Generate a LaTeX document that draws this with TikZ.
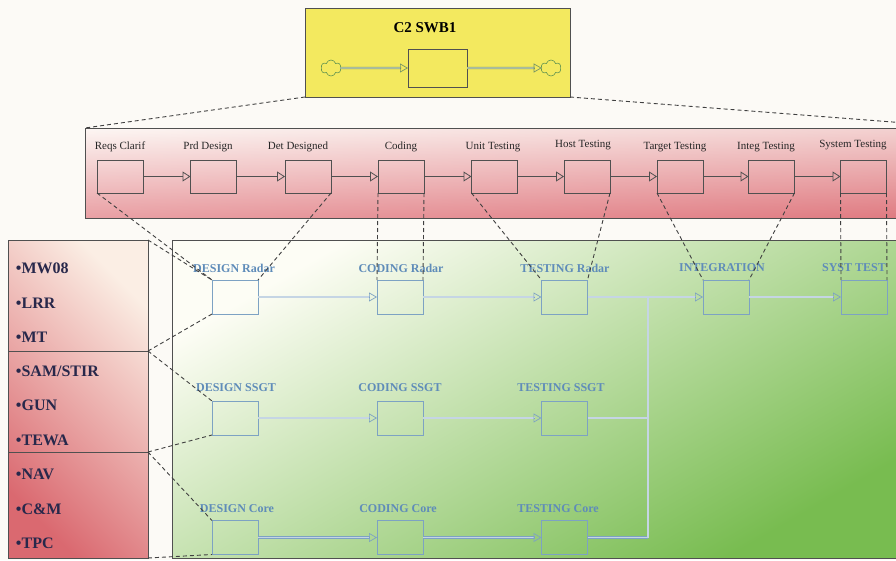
\documentclass[tikz,border=0pt]{standalone}
\usepackage{fontspec}
\setmainfont{Liberation Serif}
\usetikzlibrary{arrows.meta,shapes.symbols,calc}
\definecolor{bgc}{RGB}{252,250,246}
\definecolor{boxgray}{RGB}{80,80,80}
\definecolor{bluetxt}{RGB}{95,140,185}
\definecolor{blueln}{RGB}{125,162,195}
\definecolor{navy}{RGB}{40,40,75}
\definecolor{ylw}{RGB}{243,233,95}
\definecolor{yarrow}{RGB}{120,150,100}
\definecolor{cloudc}{RGB}{100,150,80}
\definecolor{pinktop}{RGB}{252,244,240}
\definecolor{pinkbot}{RGB}{226,128,134}
\definecolor{pinkred}{RGB}{215,95,105}
\definecolor{lbtop}{RGB}{251,238,228}
\definecolor{lbbot}{RGB}{218,105,112}
\definecolor{gtop}{RGB}{253,253,245}
\definecolor{gmid}{RGB}{215,237,190}
\definecolor{gbot}{RGB}{120,188,80}
\newcommand\dblarr[3]{%
  \draw[dblline=#1, shorten >=7pt] (#2) -- (#3);
  \draw[dbltip=#1] ($(#3)+(-8,0)$) -- (#3);}
\begin{document}
\begin{tikzpicture}[x=1pt,y=-1pt,
  every node/.style={inner sep=0pt, outer sep=0pt},
  pbox/.style={draw=boxgray, line width=0.8pt, minimum width=46pt, minimum height=33pt},
  lbox/.style={draw=blueln, line width=0.8pt, minimum width=46pt, minimum height=34pt},
  ptxt/.style={font=\fontsize{11}{11}\selectfont, text=black!85},
  ltxt/.style={font=\bfseries\fontsize{12}{12}\selectfont, text=bluetxt},
  itxt/.style={font=\bfseries\fontsize{16}{16}\selectfont, text=navy, anchor=west},
  parrow/.style={draw=boxgray, line width=0.8pt, -{Triangle[open,length=8pt,width=10pt,line width=0.8pt]}},
  dsh/.style={draw=black!75, line width=0.9pt, dash pattern=on 4pt off 3pt},
  dblline/.style={draw=#1, double=#1!45!white, double distance=1.2pt, line width=0.6pt},
  dbltip/.style={draw=#1, line width=0.7pt, -{Triangle[open,length=8pt,width=9pt]}},
]
\useasboundingbox[fill=bgc] (0,0) rectangle (896,560);

% ---------- top yellow box ----------
\node[draw=boxgray, line width=0.9pt, fill=ylw, minimum width=265pt, minimum height=89pt] (swb) at (437.5,52.5) {};
\node[font=\bfseries\fontsize{15}{15}\selectfont] (title) at (425,28) {C2 SWB1};
\node[draw=boxgray, line width=0.8pt, minimum width=59pt, minimum height=38pt] (core) at (437.5,68) {};
\node[cloud, cloud puffs=6, draw=cloudc, line width=0.6pt, minimum width=20pt, minimum height=16pt] (cl1) at (331,68) {};
\node[cloud, cloud puffs=6, draw=cloudc, line width=0.6pt, minimum width=20pt, minimum height=16pt] (cl2) at (551,68) {};
\dblarr{yarrow}{cl1.east}{core.west}
\dblarr{yarrow}{core.east}{cl2.west}

% ---------- middle process box ----------
\node[minimum width=885pt, minimum height=90pt, top color=pinktop, bottom color=pinkbot] (mid) at (527.5,173) {};
\shade[left color=white, right color=pinkred, opacity=0.25] (mid.north west) rectangle (mid.south east);
\draw[boxgray, line width=0.9pt] (mid.north west) rectangle (mid.south east);

\draw[dsh] (swb.south west) -- (mid.north west);
\draw[dsh] (swb.south east) -- (mid.north east);

\node[pbox] (p1) at (120,176.5) {};
\node[pbox] (p2) at (213.5,176.5) {};
\node[pbox] (p3) at (308,176.5) {};
\node[pbox] (p4) at (401,176.5) {};
\node[pbox] (p5) at (494.5,176.5) {};
\node[pbox] (p6) at (587,176.5) {};
\node[pbox] (p7) at (680,176.5) {};
\node[pbox] (p8) at (771.5,176.5) {};
\node[pbox] (p9) at (863.5,176.5) {};

\node[ptxt] (t1) at (120,147) {Reqs Clarif};
\node[ptxt] (t2) at (208,147) {Prd Design};
\node[ptxt] (t3) at (298,147) {Det Designed};
\node[ptxt] (t4) at (401,147) {Coding};
\node[ptxt] (t5) at (493,147) {Unit Testing};
\node[ptxt] (t6) at (583,145) {Host Testing};
\node[ptxt] (t7) at (675,147) {Target Testing};
\node[ptxt] (t8) at (766,147) {Integ Testing};
\node[ptxt] (t9) at (853,145) {System Testing};

\foreach \a/\b in {p1/p2,p2/p3,p3/p4,p4/p5,p5/p6,p6/p7,p7/p8,p8/p9}
  \draw[parrow] (\a.east) -- (\b.west);

% ---------- left list box ----------
\node[minimum width=140pt, minimum height=318pt, top color=lbtop, bottom color=lbbot, shading angle=315] (lb) at (78,399) {};
\draw[boxgray, line width=0.9pt] (lb.north west) rectangle (lb.south east);
\coordinate (d1) at (148,351);
\coordinate (d2) at (148,452);
\draw[boxgray, line width=0.9pt] (lb.west |- d1) -- (d1);
\draw[boxgray, line width=0.9pt] (lb.west |- d2) -- (d2);
\node[itxt] (i1) at (16,268) {•MW08};
\node[itxt] (i2) at (16,303) {•LRR};
\node[itxt] (i3) at (16,337) {•MT};
\node[itxt] (i4) at (16,371) {•SAM/STIR};
\node[itxt] (i5) at (16,405) {•GUN};
\node[itxt] (i6) at (16,440) {•TEWA};
\node[itxt] (i7) at (16,474) {•NAV};
\node[itxt] (i8) at (16,509) {•C\&M};
\node[itxt] (i9) at (16,543) {•TPC};

% ---------- lower detail box ----------
\node[minimum width=728pt, minimum height=318pt, top color=gtop, middle color=gmid, bottom color=gbot, shading angle=30] (lo) at (536,399) {};
\draw[boxgray, line width=0.9pt] (lo.north west) rectangle (lo.south east);

\node[lbox] (dr) at (235,297) {};
\node[lbox] (cr) at (400,297) {};
\node[lbox] (tr) at (564.5,297) {};
\node[lbox] (ig) at (726,297) {};
\node[lbox] (st) at (864,297) {};
\node[lbox] (ds) at (235,418) {};
\node[lbox] (cs) at (400,418) {};
\node[lbox] (ts) at (564.5,418) {};
\node[lbox] (dc) at (235,537.5) {};
\node[lbox] (cc) at (400,537.5) {};
\node[lbox] (tc) at (564.5,537.5) {};

\node[ltxt] (l1) at (234,268) {DESIGN Radar};
\node[ltxt] (l2) at (401,268) {CODING Radar};
\node[ltxt] (l3) at (565,268) {TESTING Radar};
\node[ltxt] (l4) at (722,268) {INTEGRATION};
\node[ltxt] (l5) at (854,268) {SYST TEST};
\node[ltxt] (l6) at (236,388) {DESIGN SSGT};
\node[ltxt] (l7) at (400,388) {CODING SSGT};
\node[ltxt] (l8) at (561,388) {TESTING SSGT};
\node[ltxt] (l9) at (237,509) {DESIGN Core};
\node[ltxt] (l10) at (398,509) {CODING Core};
\node[ltxt] (l11) at (558,509) {TESTING Core};

\coordinate (bus1) at (648,297);
\coordinate (bus2) at (648,418);
\coordinate (bus3) at (648,537.5);

\dblarr{blueln}{dr.east}{cr.west}
\dblarr{blueln}{cr.east}{tr.west}
\dblarr{blueln}{tr.east}{ig.west}
\dblarr{blueln}{ig.east}{st.west}
\dblarr{blueln}{ds.east}{cs.west}
\dblarr{blueln}{cs.east}{ts.west}
\dblarr{blueln}{dc.east}{cc.west}
\dblarr{blueln}{cc.east}{tc.west}
\draw[dblline=blueln] (ts.east) -- (bus2);
\draw[dblline=blueln] (tc.east) -- (bus3);
\draw[dblline=blueln] (bus1) -- (bus3);

% ---------- dashed zoom lines ----------
\draw[dsh] (p1.south west) -- (dr.north west);
\draw[dsh] (p3.south east) -- (dr.north east);
\draw[dsh] (p4.south west) -- (cr.north west);
\draw[dsh] (p4.south east) -- (cr.north east);
\draw[dsh] (p5.south west) -- (tr.north west);
\draw[dsh] (p6.south east) -- (tr.north east);
\draw[dsh] (p7.south west) -- (ig.north west);
\draw[dsh] (p8.south east) -- (ig.north east);
\draw[dsh] (p9.south west) -- (st.north west);
\draw[dsh] (p9.south east) -- (st.north east);

\draw[dsh] (lb.north east) -- (dr.north west);
\draw[dsh] (d1) -- (dr.south west);
\draw[dsh] (d1) -- (ds.north west);
\draw[dsh] (d2) -- (ds.south west);
\draw[dsh] (d2) -- (dc.north west);
\draw[dsh] (lb.south east) -- (dc.south west);
\end{tikzpicture}
\end{document}
